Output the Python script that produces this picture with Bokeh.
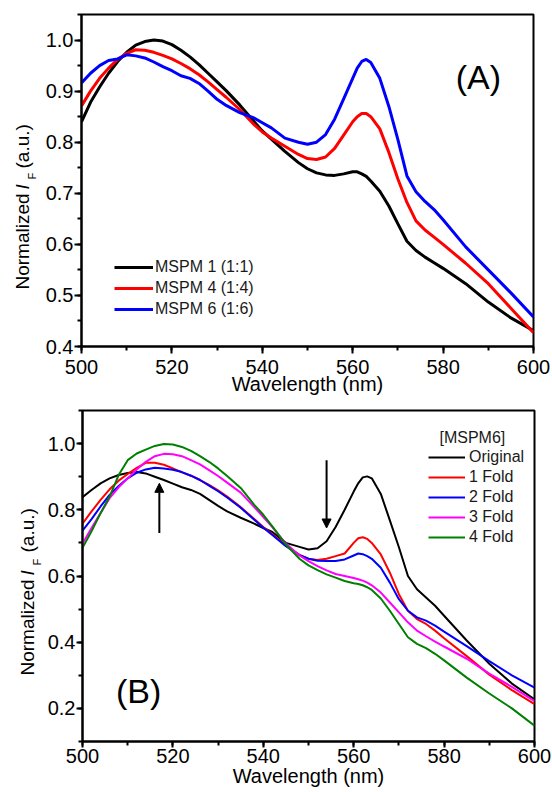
import math
from bokeh.plotting import figure
from bokeh.models import (Range1d, SingleIntervalTicker, Legend, LegendItem, Label,
                          Arrow, NormalHead, PrintfTickFormatter)
from bokeh.layouts import column, row
from bokeh.embed import file_html
from bokeh.resources import INLINE

# ---------------- data ----------------
wavelength = [500, 502, 504, 506, 508, 510, 512, 514, 516, 518, 520, 522, 524, 526, 528,
              530, 532, 535, 538, 540, 542, 545, 548, 550, 552, 554, 556, 558, 560, 561,
              562, 563, 564, 566, 568, 570, 572, 574, 576, 578, 580, 585, 590, 595, 600]

# Panel A
mspm1 = [.840, .878, .908, .935, .958, .976, .990, .997, 1.000, .998, .991, .980, .967, .952, .935,
         .918, .901, .873, .842, .822, .806, .782, .760, .748, .740, .736, .735, .738, .742, .742,
         .738, .733, .724, .704, .675, .640, .606, .588, .575, .564, .553, .523, .487, .456, .431]
mspm4 = [.871, .900, .925, .945, .962, .974, .981, .980, .976, .970, .963, .954, .944, .932, .918,
         .903, .888, .864, .836, .820, .808, .792, .776, .768, .766, .771, .788, .814, .840, .850,
         .856, .856, .850, .826, .780, .728, .682, .646, .628, .614, .600, .563, .523, .475, .427]
mspm6 = [.916, .935, .950, .960, .963, .971, .969, .965, .957, .948, .940, .930, .925, .915, .900,
         .884, .872, .858, .848, .838, .828, .808, .800, .796, .800, .815, .845, .885, .925, .945,
         .958, .962, .956, .925, .870, .805, .734, .703, .684, .668, .648, .595, .550, .505, .458]
labels_a = ["MSPM 1 (1:1)", "MSPM 4 (1:4)", "MSPM 6 (1:6)"]

# Panel B
original = [.838, .860, .880, .895, .905, .911, .914, .910, .900, .890, .879, .868, .860, .848, .830,
            .812, .795, .776, .758, .745, .733, .700, .688, .680, .684, .705, .748, .800, .855, .880,
            .898, .901, .895, .848, .768, .687, .600, .560, .535, .510, .480, .405, .335, .275, .227]
fold1 = [.758, .795, .830, .862, .888, .908, .927, .942, .942, .936, .925, .913, .903, .890, .875,
         .859, .840, .808, .772, .748, .726, .692, .664, .652, .648, .652, .660, .668, .700, .714,
         .717, .712, .700, .665, .610, .545, .495, .470, .455, .435, .412, .358, .302, .255, .213]
fold2 = [.737, .772, .810, .845, .872, .895, .912, .922, .927, .925, .921, .914, .903, .890, .873,
         .856, .837, .806, .770, .746, .724, .690, .663, .652, .646, .645, .645, .650, .662, .668,
         .666, .660, .652, .625, .580, .530, .495, .475, .465, .450, .432, .388, .343, .300, .263]
fold3 = [.698, .745, .790, .835, .868, .895, .922, .945, .962, .969, .968, .962, .950, .937, .920,
         .902, .882, .852, .808, .778, .748, .698, .662, .645, .630, .617, .606, .600, .594, .590,
         .586, .580, .572, .550, .520, .490, .460, .435, .418, .402, .387, .350, .305, .265, .222]
fold4 = [.685, .735, .790, .840, .905, .950, .970, .982, .993, .999, .997, .990, .978, .962, .945,
         .925, .902, .866, .815, .785, .750, .695, .652, .632, .618, .605, .595, .585, .578, .576,
         .572, .566, .558, .532, .495, .455, .415, .395, .382, .365, .345, .293, .245, .200, .148]
labels_b = ["Original", "1 Fold", "2 Fold", "3 Fold", "4 Fold"]
legend_title_b = "[MSPM6]"

# arrows in panel B: (x, y_start, y_end)
arrow_up = (517, 0.73, 0.88)
arrow_down = (554, 0.95, 0.745)

FONT = "Liberation Sans"


def base_figure(fw, fh, left, right, top, bottom, y0, y1, y_int, tick_out, label_standoff, axis_standoff):
    p = figure(frame_width=fw, frame_height=fh, min_border_left=left, min_border_right=right,
               min_border_top=top, min_border_bottom=bottom, output_backend="svg",
               toolbar_location=None, x_range=Range1d(500, 600), y_range=Range1d(y0, y1))
    p.grid.visible = False
    p.outline_line_color = "black"
    p.outline_line_width = 2
    p.outline_line_alpha = 1
    p.background_fill_color = "white"
    p.border_fill_color = "white"
    p.xaxis.ticker = SingleIntervalTicker(interval=20, num_minor_ticks=2)
    p.yaxis.ticker = SingleIntervalTicker(interval=y_int, num_minor_ticks=2)
    p.yaxis.formatter = PrintfTickFormatter(format="%.1f")
    for ax in (p.xaxis[0], p.yaxis[0]):
        ax.axis_line_width = 2
        ax.major_tick_line_width = 2
        ax.minor_tick_line_width = 2
        ax.major_tick_in = 0
        ax.minor_tick_in = 0
        ax.major_tick_out = tick_out
        ax.minor_tick_out = 4
        ax.major_label_text_font = FONT
        ax.major_label_text_font_size = "20px"
        ax.major_label_text_color = "black"
    p.yaxis.major_label_standoff = 1
    p.xaxis.major_label_standoff = label_standoff
    p.xaxis.axis_label = "Wavelength (nm)"
    p.xaxis.axis_label_text_font = FONT
    p.xaxis.axis_label_text_font_size = "20px"
    p.xaxis.axis_label_text_font_style = "normal"
    p.xaxis.axis_label_text_color = "black"
    p.xaxis.axis_label_standoff = axis_standoff
    return p


def label_figure(w, h, xc, ystart, y_i, y_f, y_rest):
    f = figure(frame_width=w, frame_height=h, min_border=0, output_backend="svg",
               toolbar_location=None, x_axis_type=None, y_axis_type=None,
               x_range=Range1d(0, w), y_range=Range1d(0, h))
    f.grid.visible = False
    f.outline_line_color = None
    f.border_fill_color = "white"
    common = dict(x_units="screen", y_units="screen", angle=math.pi / 2,
                  text_baseline="middle", text_align="left", text_color="black",
                  text_font=FONT)
    f.add_layout(Label(x=xc, y=ystart, text="Normalized", text_font_size="19px", **common))
    f.add_layout(Label(x=xc, y=y_i, text="I", text_font_size="19px",
                       text_font_style="italic", **common))
    f.add_layout(Label(x=xc + 9, y=y_f, text="F", text_font_size="11px", **common))
    f.add_layout(Label(x=xc, y=y_rest, text="(a.u.)", text_font_size="19px", **common))
    return f


# ---------------- panel A ----------------
pa = base_figure(452, 332, 37, 21, 14, 54, 0.4, 1.05, 0.1, 7, 6, -4)
ra = []
for ys, col in zip([mspm1, mspm4, mspm6], ["black", "red", "blue"]):
    ra.append(pa.line(wavelength, ys, line_color=col, line_width=3))
leg_a = Legend(items=[LegendItem(label=l, renderers=[r]) for l, r in zip(labels_a, ra)],
               location=(33, 27), padding=0, margin=0, spacing=1, glyph_width=39,
               glyph_height=20, label_height=20, label_standoff=2,
               label_text_font=FONT, label_text_font_size="16px", label_text_color="#1a1a1a",
               background_fill_alpha=0, border_line_alpha=0)
pa.add_layout(leg_a)
pa.add_layout(Label(x=587.8, y=0.927, text="(A)", text_font=FONT, text_font_size="34px",
                    text_align="center", text_baseline="middle", text_color="black"))
la = label_figure(42, 400, 22, 125, 225, 235, 246)

# ---------------- panel B ----------------
pb = base_figure(452, 331, 37, 19, 10, 51, 0.1, 1.1, 0.2, 6, 1, -1)
rb = []
for ys, col in zip([original, fold1, fold2, fold3, fold4],
                   ["black", "red", "blue", "magenta", "green"]):
    rb.append(pb.line(wavelength, ys, line_color=col, line_width=2))
leg_b = Legend(items=[LegendItem(label=l, renderers=[r]) for l, r in zip(labels_b, rb)],
               location=(346, 194), padding=0, margin=0, spacing=0, glyph_width=37,
               glyph_height=20, label_height=20, label_standoff=4,
               label_text_font=FONT, label_text_font_size="16px", label_text_color="#1a1a1a",
               background_fill_alpha=0, border_line_alpha=0)
pb.add_layout(leg_b)
pb.add_layout(Label(x=357, y=304, x_units="screen", y_units="screen", text=legend_title_b,
                    text_font=FONT, text_font_size="16px", text_baseline="middle",
                    text_color="#1a1a1a"))
pb.add_layout(Label(x=512.4, y=0.252, text="(B)", text_font=FONT, text_font_size="34px",
                    text_align="center", text_baseline="middle", text_color="black"))
for ax, y_s, y_e in [arrow_up, arrow_down]:
    pb.add_layout(Arrow(end=NormalHead(size=9, fill_color="black", line_color="black"),
                        x_start=ax, y_start=y_s, x_end=ax, y_end=y_e,
                        line_color="black", line_width=2))
lb = label_figure(44, 392, 27, 127, 227, 237, 250)

layout = column(row(la, pa, spacing=0), row(lb, pb, spacing=0), spacing=0)
open("out.html", "w").write(file_html(layout, INLINE))
